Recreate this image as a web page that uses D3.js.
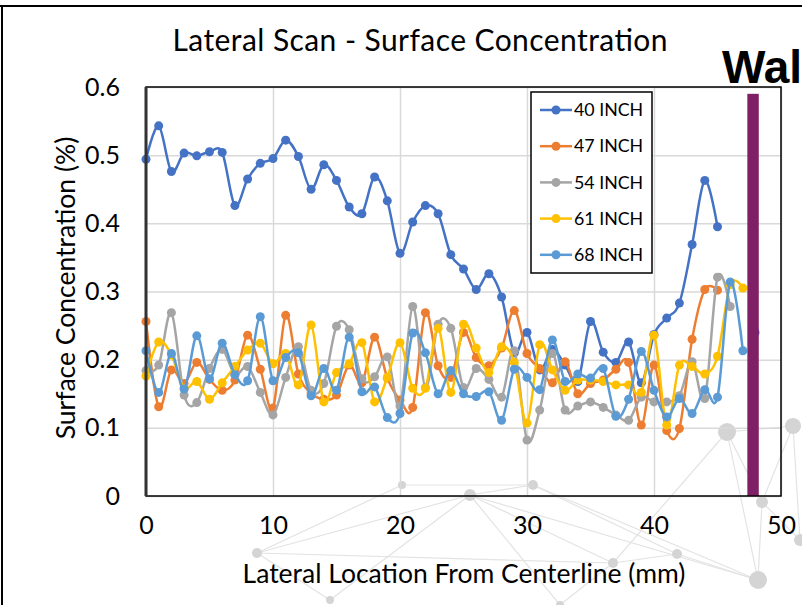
<!DOCTYPE html>
<html>
<head>
<meta charset="utf-8">
<script src="https://cdn.jsdelivr.net/npm/d3@7"></script>
<style>
  html, body { margin: 0; padding: 0; background: #fff; }
  svg { display: block; font-family: Lato, "Open Sans", sans-serif; }
</style>
</head>
<body>
<svg id="chart" width="802" height="605"></svg>
<script>
// chart data
const seriesNames = ['40 INCH', '47 INCH', '54 INCH', '61 INCH', '68 INCH'];
const seriesColors = ['#4472C4', '#ED7D31', '#A5A5A5', '#FFC000', '#5B9BD5'];

const inch40 = [0.494, 0.543, 0.476, 0.503, 0.499, 0.505, 0.504, 0.426, 0.465, 0.488,
  0.495, 0.522, 0.498, 0.450, 0.486, 0.463, 0.424, 0.414, 0.468, 0.433,
  0.356, 0.402, 0.426, 0.414, 0.354, 0.333, 0.303, 0.326, 0.292, 0.210,
  0.240, 0.185, 0.215, 0.192, 0.168, 0.256, 0.211, 0.196, 0.226, 0.166,
  0.237, 0.261, 0.283, 0.369, 0.463, 0.395];
const inch47 = [0.256, 0.131, 0.185, 0.165, 0.196, 0.171, 0.155, 0.170, 0.236, 0.186,
  0.129, 0.265, 0.179, 0.151, 0.142, 0.148, 0.192, 0.166, 0.233, 0.173,
  0.141, 0.130, 0.269, 0.191, 0.174, 0.240, 0.203, 0.191, 0.217, 0.272,
  0.209, 0.187, 0.166, 0.197, 0.150, 0.165, 0.170, 0.186, 0.196, 0.104,
  0.192, 0.096, 0.099, 0.230, 0.303, 0.302];
const inch54 = [0.184, 0.192, 0.269, 0.148, 0.137, 0.187, 0.215, 0.178, 0.190, 0.152,
  0.119, 0.174, 0.219, 0.155, 0.165, 0.249, 0.244, 0.172, 0.175, 0.204,
  0.132, 0.278, 0.159, 0.252, 0.246, 0.159, 0.187, 0.171, 0.145, 0.213,
  0.082, 0.126, 0.209, 0.126, 0.132, 0.138, 0.130, 0.119, 0.111, 0.145,
  0.138, 0.138, 0.147, 0.197, 0.143, 0.321, 0.278];
const inch61 = [0.176, 0.226, 0.207, 0.158, 0.168, 0.142, 0.166, 0.190, 0.214, 0.224,
  0.194, 0.209, 0.163, 0.251, 0.138, 0.181, 0.194, 0.225, 0.138, 0.174,
  0.225, 0.158, 0.158, 0.246, 0.152, 0.252, 0.217, 0.181, 0.219, 0.196,
  0.107, 0.222, 0.185, 0.155, 0.170, 0.170, 0.168, 0.163, 0.163, 0.152,
  0.236, 0.104, 0.192, 0.190, 0.179, 0.205, 0.310, 0.305];
const inch68 = [0.213, 0.152, 0.209, 0.157, 0.235, 0.172, 0.224, 0.178, 0.169, 0.263,
  0.169, 0.203, 0.210, 0.147, 0.187, 0.155, 0.233, 0.153, 0.160, 0.115,
  0.121, 0.239, 0.210, 0.150, 0.184, 0.150, 0.146, 0.153, 0.111, 0.186,
  0.174, 0.156, 0.229, 0.168, 0.179, 0.173, 0.187, 0.117, 0.142, 0.212,
  0.155, 0.116, 0.143, 0.121, 0.156, 0.145, 0.314, 0.213];
const seriesValues = [inch40, inch47, inch54, inch61, inch68];

// wall marker: location (mm), bar height and hidden point behind it
const wallLocation = 47.8;
const wallWidthMm = 0.9;
const wallHeight = 0.59;
const wallPoint = 0.24;

const xTicks = [0, 10, 20, 30, 40, 50];
const yTicks = [0, 0.1, 0.2, 0.3, 0.4, 0.5, 0.6];

// faint slide background (network decoration)
const bgNodes = [[470, 495, 6], [533, 485, 5], [727, 432, 9], [793, 426, 8], [762, 502, 6],
  [613, 563, 5], [677, 554, 5], [758, 580, 9], [257, 553, 5], [402, 485, 4], [800, 540, 6],
  [330, 600, 4], [560, 605, 4]];
const bgEdges = [[0, 1], [0, 8], [0, 5], [1, 6], [1, 9], [2, 4], [2, 3], [2, 5], [2, 7],
  [3, 10], [4, 7], [5, 6], [6, 7], [8, 9], [0, 7], [4, 10], [1, 7], [8, 5], [3, 4],
  [8, 11], [11, 0], [5, 12], [12, 0]];

const svg = d3.select('#chart');
const plot = { left: 146, right: 781, top: 87, bottom: 496 };

const x = d3.scaleLinear().domain([0, 50]).range([plot.left, plot.right]);
const y = d3.scaleLinear().domain([0, 0.6]).range([plot.bottom, plot.top]);

// background
svg.append('rect').attr('width', 802).attr('height', 605).attr('fill', '#fff');

const bg = svg.append('g');
bg.selectAll('line')
  .data(bgEdges)
  .join('line')
  .attr('x1', d => bgNodes[d[0]][0]).attr('y1', d => bgNodes[d[0]][1])
  .attr('x2', d => bgNodes[d[1]][0]).attr('y2', d => bgNodes[d[1]][1])
  .attr('stroke', '#e3e3e3')
  .attr('stroke-width', 1.2);
bg.selectAll('circle')
  .data(bgNodes)
  .join('circle')
  .attr('cx', d => d[0]).attr('cy', d => d[1]).attr('r', d => d[2])
  .attr('fill', '#d4d4d4');

// outer chart border (top and left visible)
svg.append('line').attr('x1', 0).attr('x2', 802).attr('y1', 6).attr('y2', 6)
  .attr('stroke', '#000').attr('stroke-width', 2);
svg.append('line').attr('x1', 2).attr('x2', 2).attr('y1', 6).attr('y2', 605)
  .attr('stroke', '#000').attr('stroke-width', 2);

// gridlines
svg.append('g')
  .attr('transform', `translate(0,${plot.bottom})`)
  .call(d3.axisBottom(x).tickValues(xTicks).tickSize(-(plot.bottom - plot.top)).tickFormat(''))
  .call(g => g.select('.domain').remove())
  .call(g => g.selectAll('line').attr('stroke', '#d9d9d9').attr('stroke-width', 1.5));
svg.append('g')
  .attr('transform', `translate(${plot.left},0)`)
  .call(d3.axisLeft(y).tickValues(yTicks).tickSize(-(plot.right - plot.left)).tickFormat(''))
  .call(g => g.select('.domain').remove())
  .call(g => g.selectAll('line').attr('stroke', '#d9d9d9').attr('stroke-width', 1.5));

// tick labels
svg.append('g')
  .attr('transform', `translate(0,${plot.bottom})`)
  .call(d3.axisBottom(x).tickValues(xTicks).tickSize(0).tickPadding(20).tickFormat(d3.format('d')))
  .call(g => g.select('.domain').remove())
  .call(g => g.selectAll('text').attr('font-size', 25).attr('fill', '#000')
    .attr('font-family', 'Lato, sans-serif'));
svg.append('g')
  .attr('transform', `translate(${plot.left},0)`)
  .call(d3.axisLeft(y).tickValues(yTicks).tickSize(0).tickPadding(26).tickFormat(d => d === 0 ? '0' : d3.format('.1f')(d)))
  .call(g => g.select('.domain').remove())
  .call(g => g.selectAll('text').attr('font-size', 25).attr('fill', '#000')
    .attr('font-family', 'Lato, sans-serif'));

// series
const line = d3.line()
  .x((d, i) => x(i))
  .y(d => y(d))
  .curve(d3.curveCardinal.tension(0));

seriesValues.forEach((values, s) => {
  const g = svg.append('g');
  g.append('path')
    .datum(values)
    .attr('d', line)
    .attr('fill', 'none')
    .attr('stroke', seriesColors[s])
    .attr('stroke-width', 2.5);
  g.selectAll('circle')
    .data(values)
    .join('circle')
    .attr('cx', (d, i) => x(i))
    .attr('cy', d => y(d))
    .attr('r', 4.5)
    .attr('fill', seriesColors[s]);
});

// wall
svg.append('circle')
  .attr('cx', x(wallLocation) + 2)
  .attr('cy', y(wallPoint))
  .attr('r', 4.5)
  .attr('fill', seriesColors[0]);
svg.append('rect')
  .attr('x', x(wallLocation - wallWidthMm / 2))
  .attr('y', y(wallHeight))
  .attr('width', x(wallWidthMm) - x(0))
  .attr('height', y(0) - y(wallHeight))
  .attr('fill', '#7F2066');

// plot frame
svg.append('rect')
  .attr('x', plot.left).attr('y', plot.top)
  .attr('width', plot.right - plot.left).attr('height', plot.bottom - plot.top)
  .attr('fill', 'none').attr('stroke', '#000').attr('stroke-width', 1.5);
svg.append('line')
  .attr('x1', plot.left).attr('x2', plot.left).attr('y1', plot.top).attr('y2', plot.bottom)
  .attr('stroke', '#333').attr('stroke-width', 3);

// legend
const legend = svg.append('g').attr('transform', 'translate(531,92)');
legend.append('rect')
  .attr('width', 121).attr('height', 181)
  .attr('fill', '#fff').attr('stroke', '#000').attr('stroke-width', 1.5);
seriesNames.forEach((name, i) => {
  const row = legend.append('g').attr('transform', `translate(0,${18 + i * 36.2})`);
  row.append('line').attr('x1', 9).attr('x2', 41).attr('stroke', seriesColors[i]).attr('stroke-width', 2.5);
  row.append('circle').attr('cx', 25).attr('r', 4.5).attr('fill', seriesColors[i]);
  row.append('text')
    .attr('x', 43).attr('dy', '0.35em')
    .attr('font-size', 17.8)
    .text(name);
});

// titles
svg.append('text')
  .attr('x', 420).attr('y', 51)
  .attr('text-anchor', 'middle')
  .attr('font-size', 30)
  .attr('textLength', 495)
  .attr('lengthAdjust', 'spacing')
  .text('Lateral Scan - Surface Concentration');
svg.append('text')
  .attr('x', 464).attr('y', 583)
  .attr('text-anchor', 'middle')
  .attr('font-size', 26.5)
  .text('Lateral Location From Centerline (mm)');
svg.append('text')
  .attr('transform', 'translate(75,288) rotate(-90)')
  .attr('text-anchor', 'middle')
  .attr('font-size', 26.5)
  .text('Surface Concentration (%)');

svg.append('text')
  .attr('x', 722).attr('y', 83)
  .attr('font-family', '"Liberation Sans", Arial, sans-serif')
  .attr('font-weight', 'bold')
  .attr('font-size', 46)
  .text('Wall');
</script>
</body>
</html>
